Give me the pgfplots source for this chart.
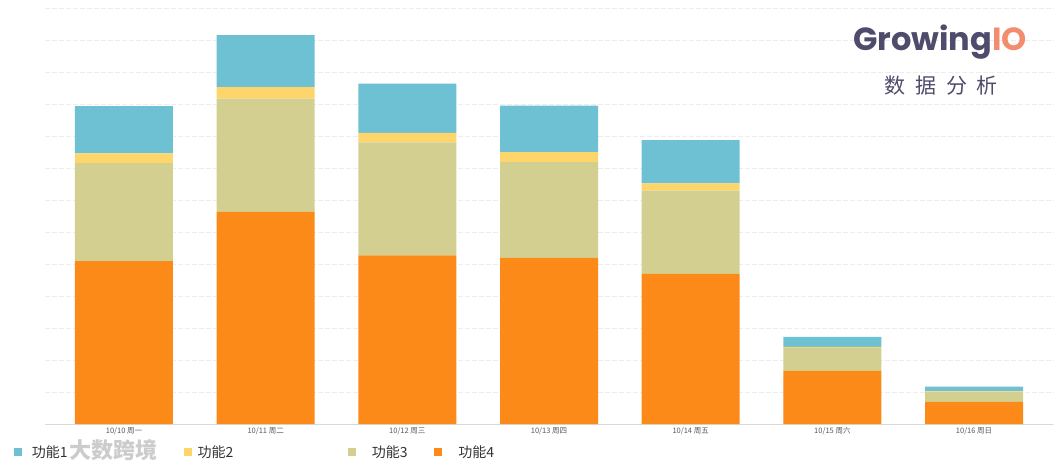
\documentclass[border=0pt]{standalone}
\usepackage{fontspec}
\setmainfont{Noto Sans CJK SC}
\newfontfamily\logofont{Poppins}
\usepackage{pgfplots}
\pgfplotsset{compat=1.18}
\definecolor{cA}{HTML}{6EC1D3}
\definecolor{cB}{HTML}{FDD56B}
\definecolor{cC}{HTML}{D3CF91}
\definecolor{cD}{HTML}{FB8A18}
\definecolor{logodark}{HTML}{4E4B6C}
\definecolor{logoio}{HTML}{F28D6E}
\definecolor{txt}{HTML}{333333}
\begin{document}
\begin{tikzpicture}
\begin{axis}[
  scale only axis, width=1008pt, height=416pt,
  xmin=-0.5575, xmax=6.5575, ymin=0, ymax=1300,
  ybar stacked, bar width=98pt,
  axis x line*=bottom, axis y line*=left,
  x axis line style={draw=black!15, -},
  y axis line style={draw=none},
  xtick={0,...,6},
  xticklabels={10/10 周一,10/11 周二,10/12 周三,10/13 周四,10/14 周五,10/15 周六,10/16 周日},
  xticklabel style={font=\fontsize{7.5}{9}\selectfont, text=black!65},
  xtick style={draw=none},
  ytick={0,100,...,1300},
  yticklabels={},
  ytick style={draw=none},
  ymajorgrids,
  major grid style={draw=black!7, dash pattern=on 5pt off 2pt},
  reverse legend,
  legend columns=4,
  legend style={draw=none, fill=none, inner sep=0pt, outer sep=0pt,
    at={(-0.0308,-0.0673)}, anchor=west, column sep=0pt,
    font=\fontsize{14}{16}\selectfont, text=txt},
  legend image code/.code={\fill[#1,draw=none] (0pt,-4pt) rectangle (8pt,4pt);},
]
\addplot[fill=cD, draw=none] coordinates {(0,509) (1,663) (2,527) (3,519) (4,469) (5,166) (6,69)};
\addlegendentry{\hspace*{14pt}功能4}
\addplot[fill=cC, draw=none] coordinates {(0,306) (1,354) (2,353) (3,299) (4,260) (5,72) (6,31)};
\addlegendentry{\hspace*{14pt}功能3\hspace*{24.5pt}}
\addplot[fill=cB, draw=none] coordinates {(0,31) (1,36) (2,30) (3,32) (4,23) (5,3) (6,2)};
\addlegendentry{\hspace*{4pt}功能2\hspace*{112.5pt}}
\addplot[fill=cA, draw=none] coordinates {(0,147) (1,162) (2,154) (3,145) (4,135) (5,31) (6,15)};
\addlegendentry{\hspace*{8pt}功能1\hspace*{114pt}}
\end{axis}
\useasboundingbox (-45pt,-43pt) rectangle (1018pt,424pt);
\node[anchor=base west, inner sep=0pt, font=\logofont\fontsize{32}{34}\selectfont\bfseries] at (808pt,373.5pt)
  {\textcolor{logodark}{Growing}\textcolor{logoio}{IO}};
\node[anchor=center, inner sep=0pt, text=logodark, font=\fontsize{21}{23}\selectfont] at (896pt,338pt)
  {数\hspace{10pt}据\hspace{10pt}分\hspace{10pt}析};
\node[anchor=west, inner sep=0pt, text=black!25, opacity=0.8, font=\fontsize{22}{24}\selectfont\bfseries] at (24pt,-26pt) {大数跨境};
\end{tikzpicture}
\end{document}
